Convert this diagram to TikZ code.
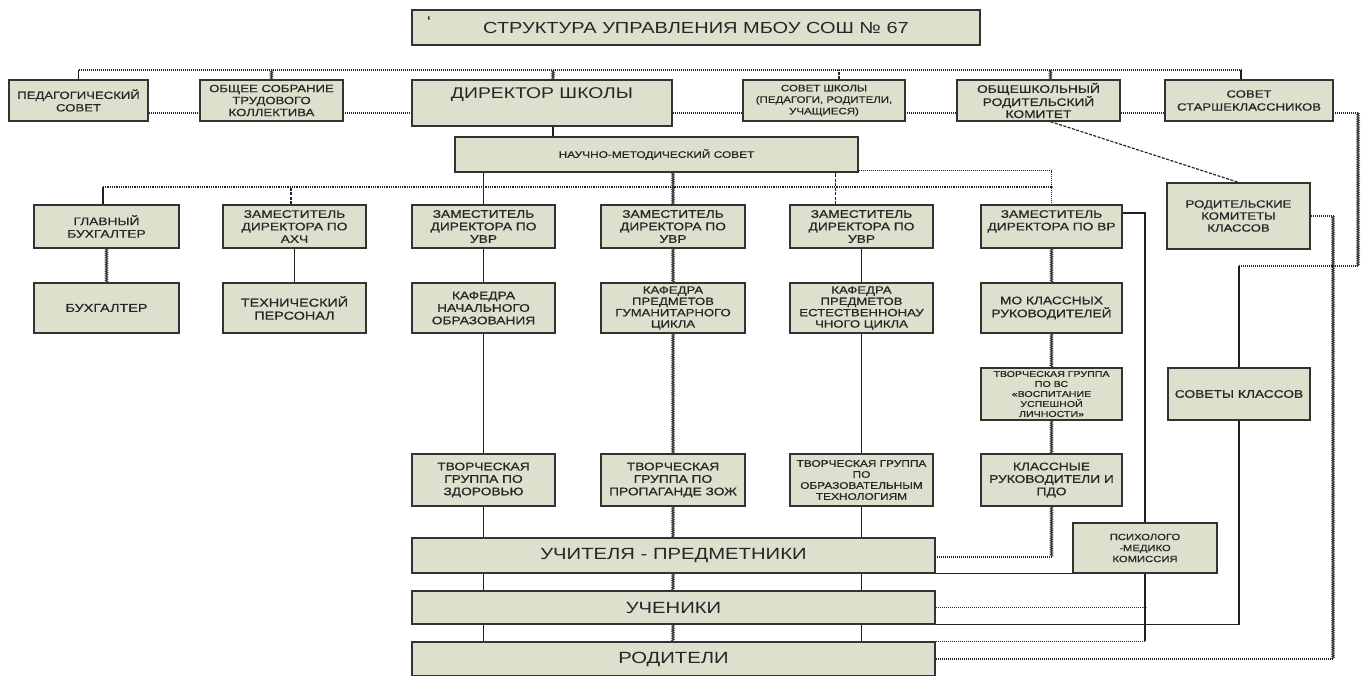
\documentclass[tikz,border=0pt]{standalone}
\usepackage{fontspec}
\setmainfont[FakeStretch=1.25]{Liberation Sans}
\newfontfamily\boxfont[FakeStretch=1.25,FakeBold=0.5]{Liberation Sans}
\usetikzlibrary{backgrounds,decorations.pathmorphing}
\definecolor{boxfill}{RGB}{221,224,204}
\definecolor{ink}{RGB}{38,38,38}
\begin{document}
\begin{tikzpicture}[x=1pt,y=-1pt,
  box/.style={draw=black!80, line width=1.3pt, fill=boxfill, inner sep=1pt, align=center, text=ink},
  fs/.style 2 args={font=\boxfont\fontsize{#1pt}{#2pt}\selectfont},
  fb/.style 2 args={font=\fontsize{#1pt}{#2pt}\selectfont},
  wh/.style 2 args={minimum width=#1pt, minimum height=#2pt},
  solidln/.style={draw=black!88, line width=1.3pt},
  dotln/.style={draw=black!85, line width=1.2pt, dash pattern=on 1pt off 1pt},
  busln/.style={draw=black!85, line width=1.7pt, dash pattern=on 1pt off 0.8pt},
  wavyln/.style={draw=black!80, line width=0.85pt, decorate, decoration={zigzag, amplitude=1.1pt, segment length=1.8pt}},
  dashln/.style={draw=black!85, line width=1.2pt, dash pattern=on 3pt off 1.5pt},
  jdot/.style={fill=black!88}
]
\useasboundingbox (0,0) rectangle (1368,675);

% ---------- nodes ----------
\node[box,fb={16}{20},wh={568}{35}] (title) at (696,27.5) {СТРУКТУРА УПРАВЛЕНИЯ МБОУ СОШ № 67};
\node[text=ink,fb={16}{16},inner sep=0pt] (tick) at (429,22) {\char96};

\node[box,fs={10.5}{12.5},wh={139}{41}] (pedsov) at (78.5,100.5) {ПЕДАГОГИЧЕСКИЙ\\СОВЕТ};
\node[box,fs={10.5}{12},wh={143}{41}] (obshee) at (271.5,100.5) {ОБЩЕЕ СОБРАНИЕ\\ТРУДОВОГО\\КОЛЛЕКТИВА};
\node[box,fb={15.5}{19},wh={260}{46},text height=11pt,text depth=20pt] (dir) at (542,103) {ДИРЕКТОР ШКОЛЫ};
\node[box,fs={9.2}{11.5},wh={162}{41}] (sovsh) at (824,100.5) {СОВЕТ ШКОЛЫ\\(ПЕДАГОГИ, РОДИТЕЛИ,\\УЧАЩИЕСЯ)};
\node[box,fs={11}{12},wh={163}{41}] (obrk) at (1038.5,100.5) {ОБЩЕШКОЛЬНЫЙ\\РОДИТЕЛЬСКИЙ\\КОМИТЕТ};
\node[box,fs={10.5}{13},wh={168}{41}] (starsh) at (1249,100.5) {СОВЕТ\\СТАРШЕКЛАССНИКОВ};

\node[box,fs={9.5}{11},wh={403}{35}] (nms) at (656.5,154.5) {НАУЧНО-МЕТОДИЧЕСКИЙ СОВЕТ};

\node[box,fs={11}{12.5},wh={145}{43}] (gb) at (106.5,226.5) {ГЛАВНЫЙ\\БУХГАЛТЕР};
\node[box,fs={11}{12.5},wh={143}{43}] (ahch) at (294.5,226.5) {ЗАМЕСТИТЕЛЬ\\ДИРЕКТОРА ПО\\АХЧ};
\node[box,fs={11}{12.5},wh={143}{43}] (uvr1) at (483.5,226.5) {ЗАМЕСТИТЕЛЬ\\ДИРЕКТОРА ПО\\УВР};
\node[box,fs={11}{12.5},wh={144}{43}] (uvr2) at (673,226.5) {ЗАМЕСТИТЕЛЬ\\ДИРЕКТОРА ПО\\УВР};
\node[box,fs={11}{12.5},wh={143}{43}] (uvr3) at (861.5,226.5) {ЗАМЕСТИТЕЛЬ\\ДИРЕКТОРА ПО\\УВР};
\node[box,fs={11}{12.5},wh={141}{43}] (vr) at (1051.5,226.5) {ЗАМЕСТИТЕЛЬ\\ДИРЕКТОРА ПО ВР\\\mbox{}};

\node[box,fs={11.5}{13},wh={145}{50}] (buh) at (106.5,308) {БУХГАЛТЕР};
\node[box,fs={11.5}{13},wh={143}{50}] (tech) at (294.5,308) {ТЕХНИЧЕСКИЙ\\ПЕРСОНАЛ};
\node[box,fs={11}{12.5},wh={143}{50}] (kaf1) at (483.5,308) {КАФЕДРА\\НАЧАЛЬНОГО\\ОБРАЗОВАНИЯ};
\node[box,fs={10.5}{11.3},wh={144}{50}] (kaf2) at (673,308) {КАФЕДРА\\ПРЕДМЕТОВ\\ГУМАНИТАРНОГО\\ЦИКЛА};
\node[box,fs={10.5}{11.3},wh={143}{50}] (kaf3) at (861.5,308) {КАФЕДРА\\ПРЕДМЕТОВ\\ЕСТЕСТВЕННОНАУ\\ЧНОГО ЦИКЛА};
\node[box,fs={11}{13},wh={141}{50}] (mo) at (1051.5,308) {МО КЛАССНЫХ\\РУКОВОДИТЕЛЕЙ};

\node[box,fs={10.5}{12},wh={143}{66}] (rodkom) at (1238.5,216) {РОДИТЕЛЬСКИЕ\\КОМИТЕТЫ\\КЛАССОВ};

\node[box,fs={8.5}{10},wh={141}{52}] (tvvs) at (1051.5,394) {ТВОРЧЕСКАЯ ГРУППА\\ПО ВС\\«ВОСПИТАНИЕ\\УСПЕШНОЙ\\ЛИЧНОСТИ»};
\node[box,fs={11}{12.5},wh={142}{52}] (sovkl) at (1239,394) {СОВЕТЫ КЛАССОВ};

\node[box,fs={11}{12.5},wh={143}{52}] (tv1) at (483.5,480) {ТВОРЧЕСКАЯ\\ГРУППА ПО\\ЗДОРОВЬЮ};
\node[box,fs={11}{12.5},wh={144}{52}] (tv2) at (673,480) {ТВОРЧЕСКАЯ\\ГРУППА ПО\\ПРОПАГАНДЕ ЗОЖ};
\node[box,fs={9.5}{11}, wh={143}{52}] (tv3) at (861.5,480) {ТВОРЧЕСКАЯ ГРУППА\\ПО\\ОБРАЗОВАТЕЛЬНЫМ\\ТЕХНОЛОГИЯМ};
\node[box,fs={11}{12.5},wh={141}{52}] (klr) at (1051.5,480) {КЛАССНЫЕ\\РУКОВОДИТЕЛИ И\\ПДО};

\node[box,fs={9}{11},wh={144}{50}] (psy) at (1145,548) {ПСИХОЛОГО\\-МЕДИКО\\КОМИССИЯ};

\node[box,fb={16.2}{20},wh={523}{35}] (uch) at (673.5,555.5) {УЧИТЕЛЯ - ПРЕДМЕТНИКИ};
\node[box,fb={16.2}{20},wh={523}{33}] (stud) at (673.5,607.5) {УЧЕНИКИ};
\node[box,fb={16.2}{20},wh={523}{34}] (rod) at (673.5,659) {РОДИТЕЛИ};

% ---------- helper coordinates ----------
\coordinate (busA) at (0,70);
\coordinate (sideA) at (0,113);
\coordinate (busB) at (0,187);
\coordinate (rrA) at (1358,113);
\coordinate (rrB) at (1358,266);
\coordinate (xR) at (1333,0);
\coordinate (yV) at (0,213);
\coordinate (yK) at (0,557);

% ---------- connectors ----------
\begin{pgfonlayer}{background}
\fill[white] (0,0) rectangle (1368,675);
% top bus
\draw[dotln] (pedsov.north |- busA) -- ([xshift=-8pt]starsh.north |- busA);
\draw[solidln] (pedsov.north) -- (pedsov.north |- busA);
\draw[wavyln] (obshee.north) -- (obshee.north |- busA);
\draw[wavyln] ([xshift=11pt]dir.north) -- ([xshift=11pt]dir.north |- busA);
\draw[dashln] ([xshift=15pt]sovsh.north) -- ([xshift=15pt]sovsh.north |- busA);
\draw[wavyln] ([xshift=12pt]obrk.north) -- ([xshift=12pt]obrk.north |- busA);
\draw[solidln] ([xshift=-8pt]starsh.north) -- ([xshift=-8pt]starsh.north |- busA);
% side line through the first row
\draw[dotln] (pedsov.east |- sideA) -- (rrA);
\draw[wavyln] (rrA) -- (rrB);
\draw[dotln] (rrB) -- (sovkl.north |- rrB);
\draw[solidln] (sovkl.north |- rrB) -- (sovkl.north);
% director to council
\draw[solidln] ([xshift=11pt]dir.south) -- ([xshift=11pt]dir.south |- nms.north);
% second bus
\draw[busln] ([xshift=-3.5pt]gb.north |- busB) -- (vr.north |- busB);
\draw[solidln] ([xshift=-3.5pt]gb.north) -- ([xshift=-3.5pt]gb.north |- busB);
\draw[dashln] ([xshift=-3.5pt]ahch.north) -- ([xshift=-3.5pt]ahch.north |- busB);
\draw[solidln] (uvr1.north) -- (uvr1.north |- nms.south);
\draw[wavyln] (uvr2.north) -- (uvr2.north |- nms.south);
\draw[dashln] ([xshift=-26pt]uvr3.north) -- ([xshift=-26pt]uvr3.north |- nms.south);
\draw[dotln] ([yshift=2pt]nms.south east) -| (vr.north);
% row 3 to row 4
\draw[wavyln] (gb.south) -- (buh.north);
\draw[solidln] (ahch.south) -- (tech.north);
\draw[solidln] (uvr1.south) -- (kaf1.north);
\draw[wavyln] (uvr2.south) -- (kaf2.north);
\draw[solidln] (uvr3.south) -- (kaf3.north);
\draw[wavyln] (vr.south) -- (mo.north);
% columns down to the bottom bars
\draw[solidln] (kaf1.south) -- (tv1.north);
\draw[solidln] (tv1.south) -- (tv1.south |- uch.north);
\draw[solidln] (uch.south -| tv1.south) -- (stud.north -| tv1.south);
\draw[solidln] (stud.south -| tv1.south) -- (rod.north -| tv1.south);
\draw[wavyln] (kaf2.south) -- (tv2.north);
\draw[wavyln] (tv2.south) -- (tv2.south |- uch.north);
\draw[wavyln] (uch.south -| tv2.south) -- (stud.north -| tv2.south);
\draw[wavyln] (stud.south -| tv2.south) -- (rod.north -| tv2.south);
\draw[solidln] (kaf3.south) -- (tv3.north);
\draw[solidln] (tv3.south) -- (tv3.south |- uch.north);
\draw[solidln] (uch.south -| tv3.south) -- (stud.north -| tv3.south);
\draw[solidln] (stud.south -| tv3.south) -- (rod.north -| tv3.south);
% educational work column
\draw[wavyln] (mo.south) -- (tvvs.north);
\draw[wavyln] (tvvs.south) -- (klr.north);
\draw[wavyln] (klr.south) -- (klr.south |- yK);
\draw[dotln] (klr.south |- yK) -- (uch.east |- yK);
% deputy VR to commission
\draw[solidln] (vr.east |- yV) -| (psy.north);
\draw[solidln] (uch.south east) -- (psy.south west);
\draw[solidln] (psy.south) -- (psy.south |- rod.north);
\draw[dotln] (psy.south |- stud.east) -- (stud.east);
\draw[dotln] (psy.south |- rod.north) -- (rod.north east);
% class councils
\draw[solidln] (sovkl.south) -- (sovkl.south |- stud.south) -- (stud.south east);
% general parents committee
\draw[dashln] ([xshift=12pt]obrk.south) -- (rodkom.north);
\draw[dotln] (rodkom.east) -- (rodkom.east -| xR);
\draw[wavyln] (rodkom.east -| xR) -- (xR |- rod.east);
\draw[dotln] (xR |- rod.east) -- (rod.east);
% junction dots
\fill[jdot] (xR |- rrB) circle (1.6pt);
\fill[jdot] (psy.south |- stud.east) circle (1.6pt);
\fill[jdot] (vr.north |- busB) circle (1.4pt);
\end{pgfonlayer}
\end{tikzpicture}
\end{document}
